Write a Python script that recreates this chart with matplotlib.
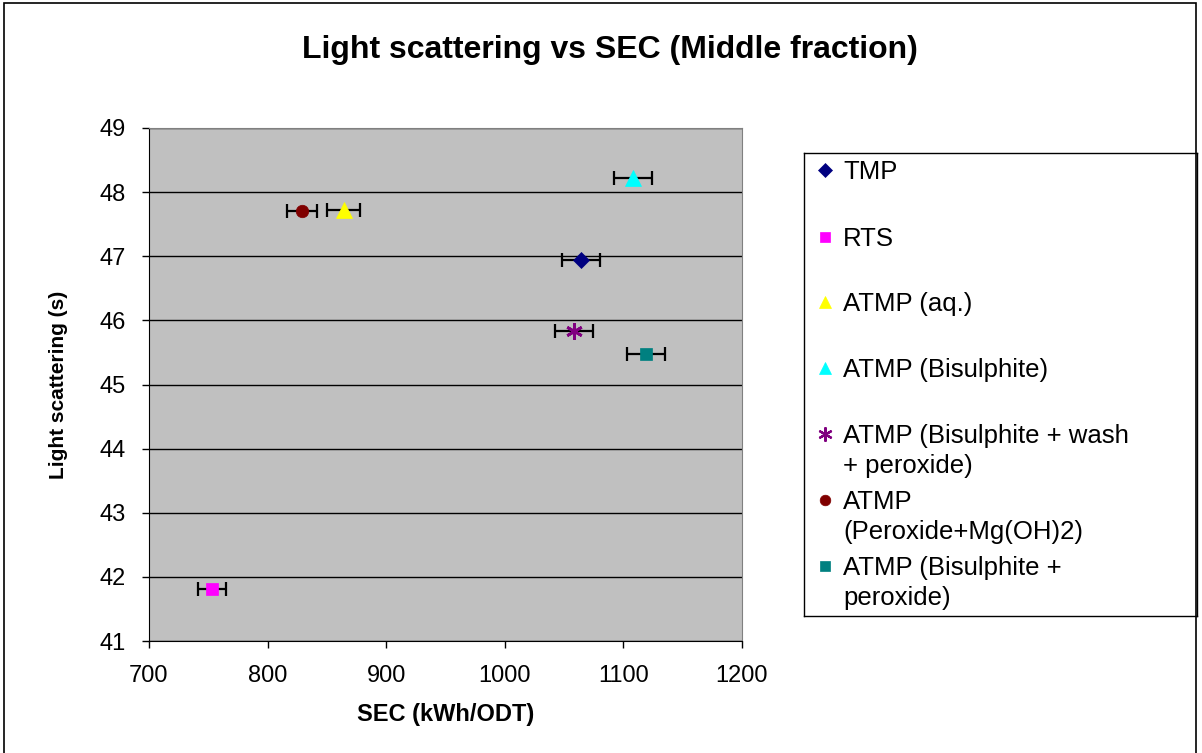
import matplotlib
matplotlib.use("Agg")
import matplotlib.pyplot as plt
from matplotlib.patches import Rectangle

plt.rcParams['font.family'] = ['Liberation Sans', 'DejaVu Sans']

# series data: SEC (kWh/ODT), light scattering, +/- error on SEC
labels = ["TMP", "RTS", "ATMP (aq.)", "ATMP (Bisulphite)",
          "ATMP (Bisulphite + wash\n+ peroxide)",
          "ATMP\n(Peroxide+Mg(OH)2)",
          "ATMP (Bisulphite +\nperoxide)"]
sec = [1064, 753, 864, 1108, 1058, 829, 1119]
scatter_s = [46.94, 41.81, 47.72, 48.22, 45.83, 47.70, 45.47]
sec_err = [16, 12, 13.5, 16, 16, 12.5, 16]

markers = ['D', 's', '^', '^', (6, 2, 0), 'o', 's']
colors = ['#000080', '#FF00FF', '#FFFF00', '#00FFFF', '#800080', '#800000', '#008080']
msizes = [8, 9, 11, 11, 12, 9, 9]

W, H = 1202, 753
fig = plt.figure(figsize=(W / 100, H / 100), dpi=100)

# thin frame round the whole chart
fig.patches.append(Rectangle((4 / W, -0.01), (1196 - 4) / W, 1.01 - 3 / H,
                             transform=fig.transFigure, fill=False,
                             edgecolor='black', linewidth=1.2))

ax = fig.add_axes([149 / W, 1 - 641 / H, (742 - 149) / W, (641 - 128) / H])
ax.set_facecolor('#C0C0C0')

for i in range(len(labels)):
    m = markers[i]
    ax.errorbar(sec[i], scatter_s[i], xerr=sec_err[i], fmt='none',
                ecolor='black', elinewidth=1.6, capsize=5, capthick=1.6, zorder=3)
    ax.plot(sec[i], scatter_s[i], linestyle='none', marker=m, ms=msizes[i],
            color=colors[i], markeredgecolor=colors[i],
            markeredgewidth=2 if m == (6, 2, 0) else 0.5, zorder=4)

ax.set_xlim(700, 1200)
ax.set_ylim(41, 49)
ax.set_xticks(range(700, 1201, 100))
ax.set_yticks(range(41, 50))
ax.grid(axis='y', color='black', linewidth=1)
ax.set_axisbelow(True)
ax.tick_params(direction='out', length=5, width=1, labelsize=17)
ax.tick_params(axis='y', pad=12)
ax.tick_params(axis='x', pad=12)
for s in ['top', 'right']:
    ax.spines[s].set_color('#808080')
for s in ['left', 'bottom']:
    ax.spines[s].set_color('black')

ax.set_xlabel("SEC (kWh/ODT)", fontsize=17, fontweight='bold', labelpad=12)
ax.set_ylabel("Light scattering (s)", fontsize=15, fontweight='bold', labelpad=22)

fig.text(610 / W, 1 - 50 / H, "Light scattering vs SEC (Middle fraction)",
         ha='center', va='center', fontsize=23, fontweight='bold')

# legend box drawn in pixel coordinates
lx0, ly0, lx1, ly1 = 804, 153, 1197, 616
lax = fig.add_axes([lx0 / W, 1 - ly1 / H, (lx1 - lx0) / W, (ly1 - ly0) / H])
lax.set_xlim(0, lx1 - lx0)
lax.set_ylim(ly1 - ly0, 0)
lax.set_xticks([])
lax.set_yticks([])
for s in lax.spines.values():
    s.set_color('black')
    s.set_linewidth(1)

fs = 18.5
row_y = [17, 84, 149, 215, 281, 347, 413]
line_h = 30
for i in range(len(labels)):
    m = markers[i]
    lax.plot(21, row_y[i], linestyle='none', marker=m, ms=msizes[i] * 0.85,
             color=colors[i], markeredgecolor=colors[i],
             markeredgewidth=1.6 if m == (6, 2, 0) else 0.5)
    for k, line in enumerate(labels[i].split('\n')):
        lax.text(39, row_y[i] + k * line_h + 0.358 * fs * 100 / 72, line,
                 fontsize=fs, va='baseline', ha='left')

fig.savefig("out.png", dpi=100)
